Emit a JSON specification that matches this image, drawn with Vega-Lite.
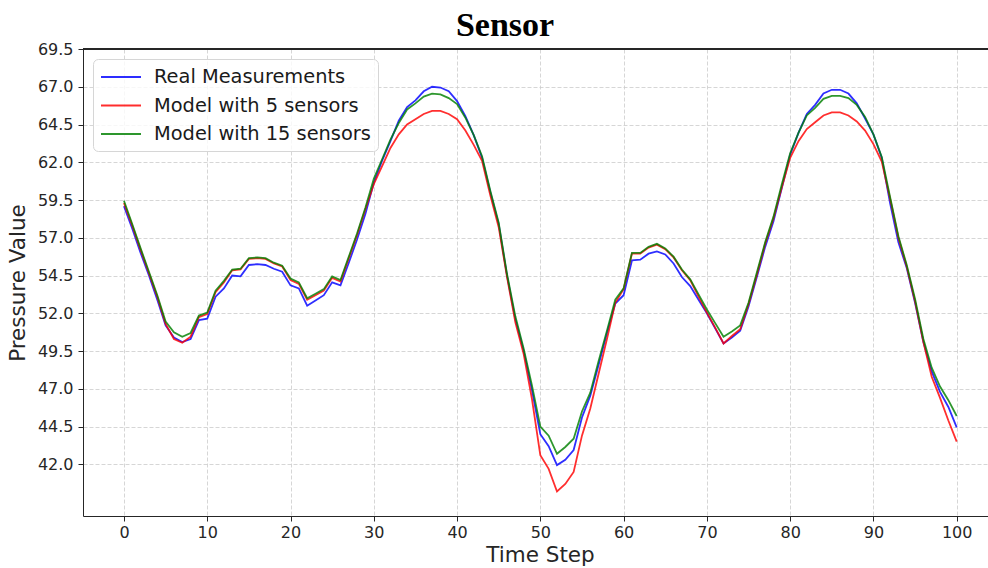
{
  "$schema": "https://vega.github.io/schema/vega-lite/v6.json",
  "autosize": {"type": "none"},
  "padding": {"left": 83, "top": 49, "right": 0, "bottom": 52},
  "width": 906,
  "height": 467,
  "background": "white",
  "title": {"text": "Sensor", "font": "Liberation Serif", "fontSize": 34, "fontWeight": "bold", "color": "#000000", "anchor": "middle", "frame": "group", "dx": -31, "offset": -2},
  "config": {
    "view": {"stroke": null},
    "axis": {"labelFont": "DejaVu Sans", "titleFont": "DejaVu Sans", "labelFontSize": 16, "titleFontSize": 21.5, "titleFontWeight": "normal", "labelColor": "#262626", "titleColor": "#262626", "domainColor": "#262626", "tickColor": "#262626", "tickSize": 5, "gridColor": "#cccccc", "gridDash": [4, 2], "gridWidth": 0.8},
    "legend": {"labelFont": "DejaVu Sans"}
  },
  "data": {"values": [
    {"step":0,"Real Measurements":59.1,"Model with 5 sensors":59.3,"Model with 15 sensors":59.45},
    {"step":1,"Real Measurements":57.6,"Model with 5 sensors":57.8,"Model with 15 sensors":57.9},
    {"step":2,"Real Measurements":56.0,"Model with 5 sensors":56.2,"Model with 15 sensors":56.3},
    {"step":3,"Real Measurements":54.5,"Model with 5 sensors":54.65,"Model with 15 sensors":54.75},
    {"step":4,"Real Measurements":52.9,"Model with 5 sensors":53.1,"Model with 15 sensors":53.2},
    {"step":5,"Real Measurements":51.2,"Model with 5 sensors":51.3,"Model with 15 sensors":51.45},
    {"step":6,"Real Measurements":50.4,"Model with 5 sensors":50.3,"Model with 15 sensors":50.75},
    {"step":7,"Real Measurements":50.1,"Model with 5 sensors":50.05,"Model with 15 sensors":50.45},
    {"step":8,"Real Measurements":50.3,"Model with 5 sensors":50.45,"Model with 15 sensors":50.7},
    {"step":9,"Real Measurements":51.55,"Model with 5 sensors":51.75,"Model with 15 sensors":51.85},
    {"step":10,"Real Measurements":51.65,"Model with 5 sensors":51.95,"Model with 15 sensors":52.05},
    {"step":11,"Real Measurements":53.1,"Model with 5 sensors":53.4,"Model with 15 sensors":53.5},
    {"step":12,"Real Measurements":53.65,"Model with 5 sensors":54.05,"Model with 15 sensors":54.15},
    {"step":13,"Real Measurements":54.5,"Model with 5 sensors":54.85,"Model with 15 sensors":54.9},
    {"step":14,"Real Measurements":54.45,"Model with 5 sensors":54.9,"Model with 15 sensors":54.95},
    {"step":15,"Real Measurements":55.2,"Model with 5 sensors":55.6,"Model with 15 sensors":55.65},
    {"step":16,"Real Measurements":55.25,"Model with 5 sensors":55.65,"Model with 15 sensors":55.7},
    {"step":17,"Real Measurements":55.2,"Model with 5 sensors":55.6,"Model with 15 sensors":55.65},
    {"step":18,"Real Measurements":54.95,"Model with 5 sensors":55.3,"Model with 15 sensors":55.35},
    {"step":19,"Real Measurements":54.75,"Model with 5 sensors":55.1,"Model with 15 sensors":55.15},
    {"step":20,"Real Measurements":53.85,"Model with 5 sensors":54.2,"Model with 15 sensors":54.3},
    {"step":21,"Real Measurements":53.65,"Model with 5 sensors":53.95,"Model with 15 sensors":54.05},
    {"step":22,"Real Measurements":52.5,"Model with 5 sensors":52.9,"Model with 15 sensors":53.0},
    {"step":23,"Real Measurements":52.85,"Model with 5 sensors":53.2,"Model with 15 sensors":53.3},
    {"step":24,"Real Measurements":53.2,"Model with 5 sensors":53.5,"Model with 15 sensors":53.6},
    {"step":25,"Real Measurements":54.05,"Model with 5 sensors":54.35,"Model with 15 sensors":54.45},
    {"step":26,"Real Measurements":53.85,"Model with 5 sensors":54.1,"Model with 15 sensors":54.2},
    {"step":27,"Real Measurements":55.35,"Model with 5 sensors":55.65,"Model with 15 sensors":55.75},
    {"step":28,"Real Measurements":56.9,"Model with 5 sensors":57.2,"Model with 15 sensors":57.3},
    {"step":29,"Real Measurements":58.6,"Model with 5 sensors":58.9,"Model with 15 sensors":59.0},
    {"step":30,"Real Measurements":60.65,"Model with 5 sensors":60.55,"Model with 15 sensors":60.9},
    {"step":31,"Real Measurements":62.1,"Model with 5 sensors":61.75,"Model with 15 sensors":62.2},
    {"step":32,"Real Measurements":63.4,"Model with 5 sensors":62.95,"Model with 15 sensors":63.5},
    {"step":33,"Real Measurements":64.75,"Model with 5 sensors":63.85,"Model with 15 sensors":64.6},
    {"step":34,"Real Measurements":65.65,"Model with 5 sensors":64.5,"Model with 15 sensors":65.5},
    {"step":35,"Real Measurements":66.1,"Model with 5 sensors":64.85,"Model with 15 sensors":65.9},
    {"step":36,"Real Measurements":66.7,"Model with 5 sensors":65.2,"Model with 15 sensors":66.35},
    {"step":37,"Real Measurements":67.0,"Model with 5 sensors":65.4,"Model with 15 sensors":66.55},
    {"step":38,"Real Measurements":66.95,"Model with 5 sensors":65.4,"Model with 15 sensors":66.5},
    {"step":39,"Real Measurements":66.7,"Model with 5 sensors":65.2,"Model with 15 sensors":66.25},
    {"step":40,"Real Measurements":66.05,"Model with 5 sensors":64.85,"Model with 15 sensors":65.85},
    {"step":41,"Real Measurements":65.05,"Model with 5 sensors":64.1,"Model with 15 sensors":64.95},
    {"step":42,"Real Measurements":63.8,"Model with 5 sensors":63.15,"Model with 15 sensors":63.8},
    {"step":43,"Real Measurements":62.3,"Model with 5 sensors":62.1,"Model with 15 sensors":62.4},
    {"step":44,"Real Measurements":60.0,"Model with 5 sensors":59.8,"Model with 15 sensors":60.1},
    {"step":45,"Real Measurements":57.9,"Model with 5 sensors":57.7,"Model with 15 sensors":58.0},
    {"step":46,"Real Measurements":54.5,"Model with 5 sensors":54.4,"Model with 15 sensors":54.6},
    {"step":47,"Real Measurements":51.6,"Model with 5 sensors":51.4,"Model with 15 sensors":51.8},
    {"step":48,"Real Measurements":49.5,"Model with 5 sensors":49.3,"Model with 15 sensors":49.65},
    {"step":49,"Real Measurements":46.9,"Model with 5 sensors":46.3,"Model with 15 sensors":47.2},
    {"step":50,"Real Measurements":44.0,"Model with 5 sensors":42.6,"Model with 15 sensors":44.5},
    {"step":51,"Real Measurements":43.2,"Model with 5 sensors":41.7,"Model with 15 sensors":43.9},
    {"step":52,"Real Measurements":41.95,"Model with 5 sensors":40.2,"Model with 15 sensors":42.7},
    {"step":53,"Real Measurements":42.3,"Model with 5 sensors":40.7,"Model with 15 sensors":43.15},
    {"step":54,"Real Measurements":42.95,"Model with 5 sensors":41.5,"Model with 15 sensors":43.7},
    {"step":55,"Real Measurements":45.1,"Model with 5 sensors":43.9,"Model with 15 sensors":45.5},
    {"step":56,"Real Measurements":46.55,"Model with 5 sensors":45.7,"Model with 15 sensors":46.75},
    {"step":57,"Real Measurements":48.6,"Model with 5 sensors":48.0,"Model with 15 sensors":48.85},
    {"step":58,"Real Measurements":50.7,"Model with 5 sensors":50.3,"Model with 15 sensors":50.85},
    {"step":59,"Real Measurements":52.65,"Model with 5 sensors":52.7,"Model with 15 sensors":52.9},
    {"step":60,"Real Measurements":53.2,"Model with 5 sensors":53.6,"Model with 15 sensors":53.65},
    {"step":61,"Real Measurements":55.5,"Model with 5 sensors":55.95,"Model with 15 sensors":56.0},
    {"step":62,"Real Measurements":55.55,"Model with 5 sensors":55.95,"Model with 15 sensors":56.0},
    {"step":63,"Real Measurements":55.95,"Model with 5 sensors":56.35,"Model with 15 sensors":56.4},
    {"step":64,"Real Measurements":56.1,"Model with 5 sensors":56.55,"Model with 15 sensors":56.6},
    {"step":65,"Real Measurements":55.9,"Model with 5 sensors":56.25,"Model with 15 sensors":56.3},
    {"step":66,"Real Measurements":55.3,"Model with 5 sensors":55.7,"Model with 15 sensors":55.75},
    {"step":67,"Real Measurements":54.4,"Model with 5 sensors":54.85,"Model with 15 sensors":54.9},
    {"step":68,"Real Measurements":53.8,"Model with 5 sensors":54.2,"Model with 15 sensors":54.25},
    {"step":69,"Real Measurements":52.9,"Model with 5 sensors":53.1,"Model with 15 sensors":53.25},
    {"step":70,"Real Measurements":52.0,"Model with 5 sensors":52.05,"Model with 15 sensors":52.25},
    {"step":71,"Real Measurements":51.0,"Model with 5 sensors":51.05,"Model with 15 sensors":51.35},
    {"step":72,"Real Measurements":50.0,"Model with 5 sensors":50.0,"Model with 15 sensors":50.45},
    {"step":73,"Real Measurements":50.4,"Model with 5 sensors":50.5,"Model with 15 sensors":50.8},
    {"step":74,"Real Measurements":50.85,"Model with 5 sensors":50.95,"Model with 15 sensors":51.2},
    {"step":75,"Real Measurements":52.45,"Model with 5 sensors":52.6,"Model with 15 sensors":52.7},
    {"step":76,"Real Measurements":54.4,"Model with 5 sensors":54.55,"Model with 15 sensors":54.7},
    {"step":77,"Real Measurements":56.4,"Model with 5 sensors":56.6,"Model with 15 sensors":56.7},
    {"step":78,"Real Measurements":58.1,"Model with 5 sensors":58.3,"Model with 15 sensors":58.4},
    {"step":79,"Real Measurements":60.3,"Model with 5 sensors":60.35,"Model with 15 sensors":60.55},
    {"step":80,"Real Measurements":62.5,"Model with 5 sensors":62.3,"Model with 15 sensors":62.6},
    {"step":81,"Real Measurements":63.95,"Model with 5 sensors":63.4,"Model with 15 sensors":63.95},
    {"step":82,"Real Measurements":65.2,"Model with 5 sensors":64.2,"Model with 15 sensors":65.1},
    {"step":83,"Real Measurements":65.8,"Model with 5 sensors":64.65,"Model with 15 sensors":65.6},
    {"step":84,"Real Measurements":66.55,"Model with 5 sensors":65.1,"Model with 15 sensors":66.2},
    {"step":85,"Real Measurements":66.8,"Model with 5 sensors":65.3,"Model with 15 sensors":66.4},
    {"step":86,"Real Measurements":66.8,"Model with 5 sensors":65.3,"Model with 15 sensors":66.4},
    {"step":87,"Real Measurements":66.55,"Model with 5 sensors":65.1,"Model with 15 sensors":66.25},
    {"step":88,"Real Measurements":65.9,"Model with 5 sensors":64.7,"Model with 15 sensors":65.8},
    {"step":89,"Real Measurements":64.9,"Model with 5 sensors":64.1,"Model with 15 sensors":65.0},
    {"step":90,"Real Measurements":63.85,"Model with 5 sensors":63.2,"Model with 15 sensors":63.85},
    {"step":91,"Real Measurements":62.3,"Model with 5 sensors":62.05,"Model with 15 sensors":62.35},
    {"step":92,"Real Measurements":59.3,"Model with 5 sensors":59.6,"Model with 15 sensors":59.7},
    {"step":93,"Real Measurements":56.7,"Model with 5 sensors":57.0,"Model with 15 sensors":57.1},
    {"step":94,"Real Measurements":55.0,"Model with 5 sensors":55.1,"Model with 15 sensors":55.2},
    {"step":95,"Real Measurements":52.7,"Model with 5 sensors":52.8,"Model with 15 sensors":52.95},
    {"step":96,"Real Measurements":50.1,"Model with 5 sensors":50.1,"Model with 15 sensors":50.3},
    {"step":97,"Real Measurements":48.15,"Model with 5 sensors":47.8,"Model with 15 sensors":48.4},
    {"step":98,"Real Measurements":46.8,"Model with 5 sensors":46.4,"Model with 15 sensors":47.15},
    {"step":99,"Real Measurements":45.8,"Model with 5 sensors":44.9,"Model with 15 sensors":46.25},
    {"step":100,"Real Measurements":44.45,"Model with 5 sensors":43.5,"Model with 15 sensors":45.2}
  ]},
  "layer": [
    {
      "transform": [
        {"fold": ["Real Measurements", "Model with 5 sensors", "Model with 15 sensors"], "as": ["series", "value"]}
      ],
      "mark": {"type": "line", "strokeWidth": 1.8, "opacity": 0.82, "clip": true},
      "encoding": {
        "x": {"field": "step", "type": "quantitative", "scale": {"domain": [-4.92, 103.88], "nice": false, "zero": false},
          "axis": {"title": "Time Step", "values": [0,10,20,30,40,50,60,70,80,90,100], "labelPadding": 3, "titlePadding": 4, "titleX": 457, "grid": true, "labelFlush": false}},
        "y": {"field": "value", "type": "quantitative", "scale": {"domain": [38.58, 69.5], "nice": false, "zero": false},
          "axis": {"title": "Pressure Value", "values": [42,44.5,47,49.5,52,54.5,57,59.5,62,64.5,67,69.5], "format": ".1f", "labelPadding": 5, "titlePadding": 8, "grid": true, "labelFlush": false}},
        "color": {"field": "series", "type": "nominal",
          "scale": {"domain": ["Real Measurements", "Model with 5 sensors", "Model with 15 sensors"], "range": ["#0000ff", "#ff0000", "#008000"]},
          "legend": {"title": null, "orient": "none", "legendX": 10, "legendY": 10, "labelFontSize": 19.4, "labelColor": "#1a1a1a", "labelLimit": 0,
            "symbolType": "M-1,0H3", "symbolSize": 400, "symbolStrokeWidth": 2, "symbolOpacity": 0.82,
            "labelOffset": 32, "rowPadding": 7.5, "padding": 7, "fillColor": "rgba(255,255,255,0.8)", "strokeColor": "#d6d6d6", "cornerRadius": 5}}
      }
    },
    {
      "mark": {"type": "rule", "color": "#262626", "strokeWidth": 1},
      "encoding": {"y": {"datum": 69.5}}
    }
  ]
}
